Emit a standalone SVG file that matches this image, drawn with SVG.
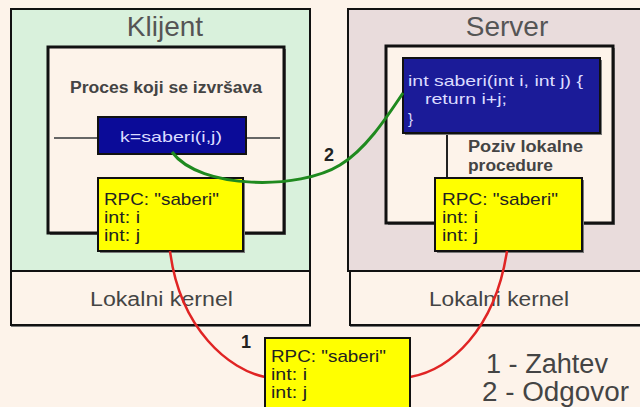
<svg xmlns="http://www.w3.org/2000/svg" width="640" height="407" viewBox="0 0 640 407">
  <defs>
    <style>
      text { font-family: "Liberation Sans", Arial, sans-serif; }
      .host { stroke: #111; stroke-width: 2; }
      .inner { fill: #fdf3ea; stroke: #111; stroke-width: 3; }
      .shadow { fill: #7a7a7a; }
      .kernel { fill: #fdf3ea; stroke: #111; stroke-width: 2; }
      .title { font-size: 28px; fill: #555; text-anchor: middle; }
      .ktext { font-size: 20px; fill: #444; }
      .label { font-size: 16px; font-weight: bold; fill: #444; }
      .call { fill: #0b0b98; stroke: #111; stroke-width: 2; }
      .code { font-size: 15px; fill: #dcdcff; }
      .msg { fill: #ffff00; stroke: #111; stroke-width: 2; }
      .msgtext { font-size: 17px; fill: #222; }
      .num { font-size: 18px; font-weight: bold; fill: #222; }
      .legend { font-size: 27px; fill: #444; }
      .req { fill: none; stroke: #e02424; stroke-width: 2.5; }
      .resp { fill: none; stroke: #1f8a1f; stroke-width: 3; }
    </style>
  </defs>

  <!-- page background -->
  <rect width="640" height="407" fill="#fdf3ea"/>

  <!-- client host -->
  <g id="klijent">
    <rect x="11" y="9" width="299" height="262" fill="#d9f1dc" class="host"/>
    <text x="165" y="36" class="title">Klijent</text>
    <rect x="50" y="49" width="236" height="186" class="shadow"/>
    <rect x="48" y="47" width="236" height="186" class="inner"/>
    <text x="70" y="93" class="label" textLength="192" lengthAdjust="spacingAndGlyphs">Proces koji se izvršava</text>
    <line x1="54" y1="138" x2="98" y2="138" stroke="#666" stroke-width="2"/>
    <line x1="246" y1="138" x2="280" y2="138" stroke="#666" stroke-width="2"/>
  </g>

  <g id="klijent-poziv">
    <rect x="98" y="117" width="148" height="37" class="call"/>
    <text x="120" y="142" class="code" textLength="102" lengthAdjust="spacingAndGlyphs">k=saberi(i,j)</text>
  </g>

  <g id="klijent-rpc">
    <rect x="100" y="180" width="145" height="73" class="shadow"/>
    <rect x="98" y="178" width="145" height="73" class="msg"/>
    <text x="104" y="205" class="msgtext" textLength="115" lengthAdjust="spacingAndGlyphs">RPC: "saberi"</text>
    <text x="104" y="223" class="msgtext" textLength="36" lengthAdjust="spacingAndGlyphs">int: i</text>
    <text x="104" y="241" class="msgtext" textLength="36" lengthAdjust="spacingAndGlyphs">int: j</text>
  </g>

  <g id="klijent-kernel">
    <rect x="11" y="273" width="300" height="54" class="shadow"/>
    <rect x="11" y="271" width="299" height="54" class="kernel"/>
    <text x="90" y="306" class="ktext" textLength="143" lengthAdjust="spacingAndGlyphs">Lokalni kernel</text>
  </g>

  <!-- server host -->
  <g id="server">
    <rect x="348" y="9" width="300" height="262" fill="#e9dcdc" class="host"/>
    <text x="507" y="36" class="title">Server</text>
    <rect x="388" y="48" width="227" height="177" class="shadow"/>
    <rect x="386" y="46" width="227" height="177" class="inner"/>
    <line x1="447" y1="133" x2="447" y2="183" stroke="#222" stroke-width="2"/>
    <text x="468" y="152" class="label" textLength="115" lengthAdjust="spacingAndGlyphs">Poziv lokalne</text>
    <text x="468" y="171" class="label" textLength="85" lengthAdjust="spacingAndGlyphs">procedure</text>
  </g>

  <g id="server-procedura">
    <rect x="405" y="60" width="197" height="75" class="shadow"/>
    <rect x="403" y="58" width="197" height="75" fill="#1b1b98" stroke="#111" stroke-width="2"/>
    <text x="408" y="86" class="code" textLength="175" lengthAdjust="spacingAndGlyphs">int saberi(int i, int j) {</text>
    <text x="425" y="104" class="code" textLength="82" lengthAdjust="spacingAndGlyphs">return i+j;</text>
    <text x="408" y="124" class="code">}</text>
  </g>

  <g id="server-rpc">
    <rect x="437" y="180" width="147" height="73" class="shadow"/>
    <rect x="435" y="178" width="147" height="73" class="msg"/>
    <text x="442" y="205" class="msgtext" textLength="116" lengthAdjust="spacingAndGlyphs">RPC: "saberi"</text>
    <text x="442" y="223" class="msgtext" textLength="36" lengthAdjust="spacingAndGlyphs">int: i</text>
    <text x="442" y="241" class="msgtext" textLength="36" lengthAdjust="spacingAndGlyphs">int: j</text>
  </g>

  <g id="server-kernel">
    <rect x="350" y="273" width="300" height="54" class="shadow"/>
    <rect x="350" y="271" width="300" height="54" class="kernel"/>
    <text x="429" y="306" class="ktext" textLength="140" lengthAdjust="spacingAndGlyphs">Lokalni kernel</text>
  </g>

  <!-- connectors: 1 = request (red), 2 = reply (green) -->
  <g id="connectors">
    <path class="req" d="M170,251 C180,330 230,370 265,377"/>
    <path class="req" d="M410,377 C450,370 495,330 507,251"/>
    <path class="resp" d="M172,152 C200,190 300,190 340,165 C365,150 385,120 403,93"/>
  </g>

  <!-- message in transit -->
  <g id="poruka">
    <rect x="265" y="338" width="145" height="75" class="msg"/>
    <text x="271" y="362" class="msgtext" textLength="115" lengthAdjust="spacingAndGlyphs">RPC: "saberi"</text>
    <text x="271" y="380" class="msgtext" textLength="36" lengthAdjust="spacingAndGlyphs">int: i</text>
    <text x="271" y="398" class="msgtext" textLength="36" lengthAdjust="spacingAndGlyphs">int: j</text>
  </g>

  <g id="oznake">
    <text x="324" y="161" class="num">2</text>
    <text x="241" y="348" class="num">1</text>
    <text x="486" y="373" class="legend" textLength="122" lengthAdjust="spacingAndGlyphs">1 - Zahtev</text>
    <text x="482" y="401" class="legend" textLength="147" lengthAdjust="spacingAndGlyphs">2 - Odgovor</text>
  </g>
</svg>
